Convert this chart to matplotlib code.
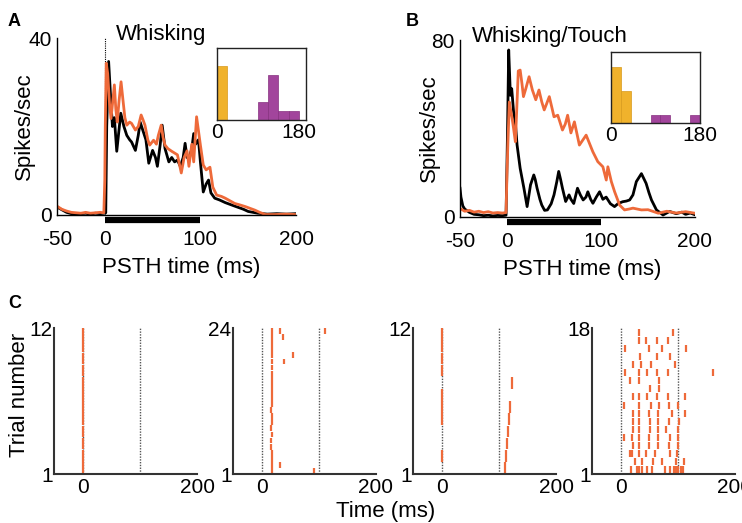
import matplotlib.pyplot as plt
import numpy as np

plt.rcParams['font.family'] = ['Liberation Sans', 'DejaVu Sans']
plt.rcParams['axes.unicode_minus'] = False

# ---- data ----
# panel A, PSTH (spikes/sec) -- "Whisking"
a_black_t = [-50, -45, -40, -35, -30, -25, -20, -15, -10, -5, -1, 1, 2, 4, 6, 8, 10, 12.5, 14.5, 16.7,
             20, 23, 26, 28, 32, 35, 37, 40, 43, 46, 50, 53, 55, 58, 60, 63, 67, 70, 73, 76, 79, 82, 84,
             86, 88, 91, 93, 95, 98, 100, 103, 106, 108.5, 111, 115, 120, 126, 136, 145, 150, 160, 170,
             180, 190, 200]
a_black_v = [1.8, 1.2, 0.6, 0.3, 0.2, 0.3, 0.4, 0.2, 0.4, 0.3, 0.4, 0.5, 20, 34.7, 27, 20, 22, 14.4, 18.5, 23,
             20, 18, 17, 16.5, 14.6, 18, 21, 19, 17, 11.7, 14.6, 13, 11, 16, 20.3, 15, 12, 13, 12, 12.4, 11, 13,
             16.2, 13, 12.8, 15, 18.4, 16, 17, 12, 5.2, 7, 7.9, 5, 3.8, 3.4, 2.8, 2.0, 1.3, 0.8, 0.4, 0.2,
             0.3, 0.2, 0.3]
a_orange_t = [-50, -45, -40, -35, -30, -25, -20, -15, -10, -5, -1, 0, 0.5, 1.5, 3, 5, 6.5, 8, 10, 11.5, 13,
              15, 17, 19, 21, 23, 26, 28, 32, 35, 38, 40, 42, 45, 47, 51, 54, 56, 59, 61, 63, 66, 70, 73,
              76, 80, 83, 86, 88, 91, 93, 96, 98, 100, 103, 106, 110, 113, 117, 122, 126, 131, 136, 141,
              147, 152, 157, 162, 168, 178, 190, 200]
a_orange_v = [2.0, 1.3, 0.9, 0.6, 0.5, 0.4, 0.6, 0.4, 0.5, 0.6, 0.5, 8, 20, 34.3, 32, 25, 21.8, 25, 29.4, 24, 21,
              26, 30.1, 26, 22, 20.3, 21, 20.7, 19.2, 20, 22.6, 21.5, 20.3, 17, 15.8, 16.9, 16, 18, 20.3, 17.5,
              15.8, 15, 14.4, 14, 13.6, 9.5, 13, 14.5, 11, 16, 12, 22.2, 19, 15.8, 11.3, 10.2, 10.8, 6.3, 4.5,
              4.2, 3.8, 3.2, 2.6, 2.3, 1.9, 1.5, 1.1, 0.6, 0.1, 0.1, 0.2, 0.1]

# panel B, PSTH -- "Whisking/Touch"
b_black_t = [-50, -49, -47, -45, -40, -35, -30, -25, -20, -15, -10, -5, -1, 0.5, 1.8, 3.6, 5, 7, 9, 10.7, 14,
             18, 21.4, 23, 25, 28.5, 30, 32, 35, 37, 40, 43, 47, 50, 53, 55, 57, 59, 62.4, 66, 68, 71, 75,
             78, 81, 84, 86, 89, 91.4, 95, 98.5, 102, 105.5, 110, 114.4, 118, 123, 127, 130.5, 134, 137.6,
             143, 148, 151, 153.7, 159, 166, 173, 180, 186, 190, 195, 200]
b_black_v = [13, 9, 5, 3.6, 2.1, 1.2, 1.0, 0.6, 0.8, 0.5, 0.7, 0.6, 0.8, 37, 75.5, 55, 58, 47.6, 42, 32.6, 22,
             13, 4.7, 9, 14.5, 19, 17, 13, 8, 5.4, 3, 3.2, 6, 10, 16, 20.6, 17, 13, 7, 10, 8, 6.1, 13,
             10, 7.7, 9, 11.4, 8, 6.2, 9, 11.4, 8, 9, 6, 4.7, 6, 6.9, 7.2, 7.7, 10, 16,
             19.6, 15.2, 11, 7.7, 3.2, 0.9, 2.5, 1.5, 2.2, 1.2, 1.8, 1.0]
b_orange_t = [-50, -45, -40, -35, -30, -25, -20, -15, -10, -5, -1, 0, 1, 2.5, 4, 5.3, 7, 8.9, 10.5, 12, 14,
              16, 17.5, 20, 23.5, 27, 30.6, 34, 37, 39.6, 42, 45, 48, 50, 54, 57, 59, 62, 64.5, 68, 71.7,
              77, 84.2, 91.3, 96.6, 102, 105.6, 107.3, 111, 114.5, 119.8, 125, 130, 134, 143, 150, 161,
              170, 180, 190, 200]
b_orange_v = [3.9, 2.6, 3.0, 2.2, 2.6, 2.0, 2.4, 1.8, 2.0, 1.8, 2.0, 20, 34, 52, 48, 45, 40, 34, 50, 66, 66.4,
              60, 54.4, 58, 63.4, 57.4, 53, 57.4, 52, 48.4, 51, 54.4, 49, 45.3, 46, 42, 39.3, 42, 46, 38, 43,
              32.5, 37, 29.5, 25, 22.7, 16.7, 22.7, 16, 11.4, 5.4, 3.2, 3.6, 4, 3.2, 3.3, 1.7,
              2.6, 1.8, 2.4, 1.7]

# inset histograms (counts per phase bin)
inset_a_edges = [0, 22.5, 45, 67.5, 90, 112.5, 135, 157.5, 180]
inset_a_gold = [6, 0, 0, 0, 0, 0, 0, 0]
inset_a_purple = [0, 0, 0, 0, 2, 5, 1, 1]
inset_b_edges = [0, 20, 40, 60, 80, 100, 120, 140, 160, 180]
inset_b_gold = [7, 4, 0, 0, 0, 0, 0, 0, 0]
inset_b_purple = [0, 0, 0, 0, 1, 1, 0, 0, 1]

stim_window = [0, 100]

# panel C rasters: spike times (ms) per trial, trial 1 = bottom
raster1 = {k: [1] for k in range(1, 13)}
raster2 = {1: [18, 91], 2: [18, 32], 3: [18], 4: [18], 5: [17], 6: [17], 7: [18], 8: [17], 9: [18],
           10: [18], 11: [17], 12: [18], 13: [18], 14: [19], 15: [18], 16: [18], 17: [18], 18: [18],
           19: [18, 39], 20: [18, 55], 21: [18], 22: [18], 23: [18, 38], 24: [18, 32, 110]}
raster3 = {1: [110], 2: [1, 112], 3: [114], 4: [116], 5: [1, 118], 6: [1, 120], 7: [1], 8: [123],
           9: [1], 10: [1], 11: [1], 12: [1]}
raster4 = {1: [18, 29, 32, 38, 47, 55, 77, 87, 93, 97, 101, 106, 109],
           2: [25, 38, 56, 73, 97, 111],
           3: [17, 20, 32, 44, 61, 87, 99],
           4: [21, 32, 50, 66, 84, 101],
           5: [6, 20, 32, 49, 65, 86, 101],
           6: [21, 33, 52, 66, 80, 101],
           7: [21, 32, 52, 66, 84, 102],
           8: [21, 33, 50, 66, 90, 112],
           9: [6, 32, 53, 67, 85, 101],
           10: [21, 33, 46, 64, 83, 112],
           11: [52, 67],
           12: [17, 33, 67],
           13: [7, 33, 46, 64, 83, 162],
           14: [21, 36, 53, 95],
           15: [34, 64, 86],
           16: [8, 50, 72, 115],
           17: [33, 45, 63, 83],
           18: [33, 91]}
rasters = [(raster1, 12), (raster2, 24), (raster3, 12), (raster4, 18)]

ORANGE = '#EE6A3A'
GOLD = '#F0B22C'
PURPLE = '#A2459C'
W, H = 742, 523

fig = plt.figure(figsize=(W / 100, H / 100), dpi=100)


def pax(l, t, r, b):
    return fig.add_axes([l / W, 1 - b / H, (r - l) / W, (b - t) / H])


def psth(ax, bt, bv, ot, ov, ymax, title, tx):
    ax.plot(bt, bv, color='k', lw=2.0)
    ax.plot(ot, ov, color=ORANGE, lw=2.0)
    ax.set_xlim(-50, 200)
    ax.set_ylim(0, ymax)
    ax.set_xticks([-50, 0, 100, 200])
    ax.set_yticks([0, ymax])
    ax.tick_params(length=0, labelsize=15)
    ax.tick_params(axis='x', pad=11)
    ax.tick_params(axis='y', pad=4)
    for s in ['top', 'right']:
        ax.spines[s].set_visible(False)
    for s in ['left', 'bottom']:
        ax.spines[s].set_linewidth(1.0)
    ax.plot(stim_window, [-0.03, -0.03], color='k', lw=4.5, solid_capstyle='butt',
            transform=ax.get_xaxis_transform(), clip_on=False)
    ax.set_xlabel('PSTH time (ms)', fontsize=16)
    ax.xaxis.set_label_coords(0.52, -0.235)
    ax.set_ylabel('Spikes/sec', fontsize=16)
    ax.yaxis.set_label_coords(-0.092, 0.5)
    ax.text(tx, 1.02, title, transform=ax.transAxes, fontsize=16, ha='center', va='center')


def inset(ax, edges, gold, purple, xmax, ymax):
    widths = np.diff(edges)
    ax.bar(edges[:-1], gold, width=widths, align='edge', color=GOLD, edgecolor='#d89a1c', lw=0.5)
    ax.bar(edges[:-1], purple, width=widths, align='edge', color=PURPLE, edgecolor='#86307f', lw=0.5)
    ax.set_xlim(0, xmax)
    ax.set_ylim(0, ymax)
    ax.set_xticks([0, 180])
    ax.set_yticks([])
    ax.tick_params(length=0, labelsize=15, pad=2)
    for s in ax.spines.values():
        s.set_linewidth(1.0)
        s.set_color('#222222')


axA = pax(57, 38, 296, 215)
axA.axvline(0, color='k', lw=0.8, ls=(0, (1, 1)), zorder=0)
psth(axA, a_black_t, a_black_v, a_orange_t, a_orange_v, 40, 'Whisking', 0.437)

axB = pax(460, 40, 695, 217)
psth(axB, b_black_t, b_black_v, b_orange_t, b_orange_v, 80, 'Whisking/Touch', 0.383)
axB.yaxis.set_label_coords(-0.085, 0.5)

inset(pax(217, 48, 306, 120), inset_a_edges, inset_a_gold, inset_a_purple, 196, 8.0)
inset(pax(611, 52, 700, 123), inset_b_edges, inset_b_gold, inset_b_purple, 180, 8.8)

c_left = [54, 233, 413, 592]
for i, (raster, n) in enumerate(rasters):
    ax = pax(c_left[i], 328, c_left[i] + 143, 474)
    for x in stim_window:
        ax.axvline(x, color='#555555', lw=1.0, ls=(0, (1, 1)), zorder=0)
    trials = sorted(raster)
    ax.eventplot([raster[k] for k in trials], lineoffsets=trials,
                 linelengths=0.85 if n == 18 else 0.95, linewidths=1.6, colors=ORANGE)
    ax.set_xlim(-50, 200)
    ax.set_ylim(0.5, n + 0.5)
    ax.set_xticks([0, 200])
    ax.set_yticks([0.5, n + 0.5])
    ax.set_yticklabels(['1', str(n)])
    ax.tick_params(length=0, labelsize=15)
    ax.tick_params(axis='x', pad=3)
    ax.tick_params(axis='y', pad=1)
    for s in ['top', 'right']:
        ax.spines[s].set_visible(False)
    for s in ['left', 'bottom']:
        ax.spines[s].set_linewidth(1.5)
        ax.spines[s].set_color('#333333')
    if i == 0:
        ax.set_ylabel('Trial number', fontsize=16)
        ax.yaxis.set_label_coords(-0.17, 0.54)

fig.text(386 / W, 1 - 512 / H, 'Time (ms)', fontsize=16, ha='center', va='center')

for lab, x, y in [('A', 14, 21), ('B', 412, 21), ('C', 15, 304)]:
    fig.text(x / W, 1 - y / H, lab, fontsize=13, fontweight='bold', ha='center', va='center')

fig.savefig('out.png', dpi=100)
